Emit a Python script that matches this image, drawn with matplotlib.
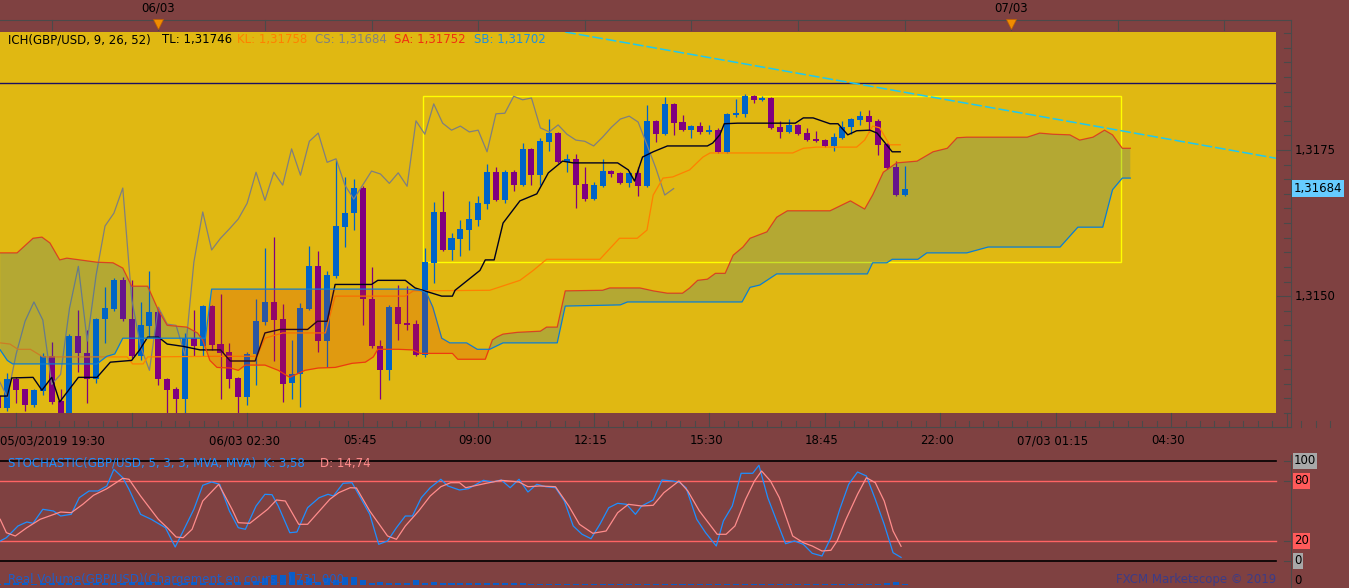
import numpy as np
import matplotlib
matplotlib.use("Agg")
import matplotlib.pyplot as plt
from matplotlib.patches import Rectangle
from matplotlib.transforms import blended_transform_factory as blend

# Bougies GBP/USD 15 min, à partir du 05/03/2019 19:30
opens = [1.31329, 1.31308, 1.31358, 1.31341, 1.31313, 1.31337, 1.31397, 1.31320, 1.31300, 1.31431,
         1.31402, 1.31358, 1.31461, 1.31478, 1.31527, 1.31461, 1.31397, 1.31449, 1.31473, 1.31358,
         1.31341, 1.31324, 1.31428, 1.31414, 1.31483, 1.31418, 1.31404, 1.31360, 1.31327, 1.31401,
         1.31455, 1.31490, 1.31461, 1.31351, 1.31366, 1.31478, 1.31551, 1.31423, 1.31534, 1.31618,
         1.31642, 1.31685, 1.31495, 1.31414, 1.31373, 1.31481, 1.31454, 1.31452, 1.31399, 1.31557,
         1.31644, 1.31579, 1.31598, 1.31613, 1.31630, 1.31658, 1.31712, 1.31664, 1.31712, 1.31690,
         1.31752, 1.31707, 1.31764, 1.31779, 1.31729, 1.31735, 1.31692, 1.31666, 1.31688, 1.31714,
         1.31711, 1.31693, 1.31711, 1.31688, 1.31800, 1.31777, 1.31829, 1.31798, 1.31784, 1.31791,
         1.31781, 1.31784, 1.31747, 1.31810, 1.31812, 1.31842, 1.31836, 1.31839, 1.31789, 1.31781,
         1.31793, 1.31779, 1.31769, 1.31767, 1.31757, 1.31771, 1.31789, 1.31801, 1.31808, 1.31800,
         1.31760, 1.31721, 1.31673]
highs = [1.31339, 1.31368, 1.31361, 1.31341, 1.31341, 1.31402, 1.31421, 1.31341, 1.31435, 1.31476,
         1.31442, 1.31462, 1.31515, 1.31531, 1.31533, 1.31527, 1.31490, 1.31543, 1.31481, 1.31360,
         1.31344, 1.31437, 1.31476, 1.31485, 1.31485, 1.31503, 1.31420, 1.31361, 1.31404, 1.31495,
         1.31582, 1.31601, 1.31486, 1.31425, 1.31488, 1.31586, 1.31577, 1.31543, 1.31733, 1.31704,
         1.31700, 1.31688, 1.31550, 1.31425, 1.31485, 1.31519, 1.31517, 1.31459, 1.31582, 1.31661,
         1.31680, 1.31608, 1.31630, 1.31663, 1.31671, 1.31726, 1.31721, 1.31716, 1.31716, 1.31762,
         1.31753, 1.31771, 1.31803, 1.31781, 1.31743, 1.31743, 1.31721, 1.31695, 1.31735, 1.31716,
         1.31712, 1.31712, 1.31721, 1.31827, 1.31801, 1.31841, 1.31830, 1.31810, 1.31793, 1.31798,
         1.31793, 1.31788, 1.31813, 1.31837, 1.31846, 1.31844, 1.31842, 1.31841, 1.31800, 1.31803,
         1.31795, 1.31788, 1.31783, 1.31769, 1.31779, 1.31800, 1.31805, 1.31817, 1.31819, 1.31803,
         1.31762, 1.31731, 1.31723]
lows = [1.31300, 1.31303, 1.31317, 1.31303, 1.31310, 1.31330, 1.31315, 1.31298, 1.31298, 1.31370,
        1.31317, 1.31351, 1.31420, 1.31474, 1.31457, 1.31394, 1.31390, 1.31430, 1.31348, 1.31300,
        1.31300, 1.31300, 1.31397, 1.31397, 1.31408, 1.31324, 1.31342, 1.31300, 1.31313, 1.31348,
        1.31450, 1.31389, 1.31319, 1.31324, 1.31310, 1.31476, 1.31404, 1.31378, 1.31531, 1.31584,
        1.31613, 1.31450, 1.31411, 1.31324, 1.31356, 1.31425, 1.31442, 1.31397, 1.31396, 1.31522,
        1.31577, 1.31562, 1.31568, 1.31579, 1.31620, 1.31649, 1.31663, 1.31659, 1.31680, 1.31688,
        1.31690, 1.31690, 1.31748, 1.31728, 1.31712, 1.31651, 1.31663, 1.31664, 1.31687, 1.31704,
        1.31692, 1.31687, 1.31671, 1.31687, 1.31764, 1.31776, 1.31776, 1.31783, 1.31771, 1.31777,
        1.31777, 1.31745, 1.31745, 1.31807, 1.31807, 1.31830, 1.31834, 1.31786, 1.31771, 1.31779,
        1.31776, 1.31765, 1.31764, 1.31755, 1.31748, 1.31769, 1.31777, 1.31793, 1.31781, 1.31741,
        1.31717, 1.31671, 1.31671]
closes = [1.31308, 1.31358, 1.31339, 1.31313, 1.31339, 1.31397, 1.31319, 1.31300, 1.31431, 1.31402,
          1.31358, 1.31461, 1.31479, 1.31527, 1.31461, 1.31397, 1.31450, 1.31473, 1.31358, 1.31339,
          1.31324, 1.31428, 1.31414, 1.31483, 1.31416, 1.31402, 1.31358, 1.31327, 1.31401, 1.31457,
          1.31490, 1.31459, 1.31349, 1.31366, 1.31479, 1.31551, 1.31423, 1.31536, 1.31620, 1.31642,
          1.31685, 1.31495, 1.31414, 1.31373, 1.31481, 1.31452, 1.31450, 1.31399, 1.31558, 1.31644,
          1.31579, 1.31599, 1.31615, 1.31632, 1.31659, 1.31712, 1.31664, 1.31712, 1.31690, 1.31752,
          1.31707, 1.31765, 1.31779, 1.31729, 1.31735, 1.31690, 1.31666, 1.31690, 1.31714, 1.31709,
          1.31693, 1.31711, 1.31688, 1.31800, 1.31777, 1.31829, 1.31796, 1.31784, 1.31791, 1.31781,
          1.31784, 1.31747, 1.31812, 1.31813, 1.31842, 1.31836, 1.31839, 1.31788, 1.31781, 1.31793,
          1.31777, 1.31767, 1.31765, 1.31757, 1.31772, 1.31789, 1.31803, 1.31808, 1.31798, 1.31759,
          1.31719, 1.31673, 1.31684]
volumes = [6, 9, 8, 9, 7, 9, 9, 8, 10, 9, 10, 11, 10, 10, 12, 14, 17, 17, 15, 12,
           10, 12, 14, 12, 10, 9, 12, 14, 16, 20, 35, 53, 53, 68, 26, 35, 17, 35, 26, 42,
           42, 26, 10, 17, 9, 12, 9, 26, 12, 15, 9, 12, 9, 9, 9, 9, 8, 9, 8, 9,
           5, 5, 6, 4, 5, 5, 6, 3, 4, 5, 3, 4, 6, 5, 4, 3, 4, 4, 3, 4,
           5, 3, 4, 3, 3, 4, 3, 4, 5, 3, 3, 4, 3, 4, 3, 3, 4, 3, 5, 4, 8, 17, 6]

# Ichimoku (position en bougies, prix)
tl_x = [0.2, 1.0, 1.5, 3.9, 4.9, 6.0, 6.9, 9.0, 11.1, 12.6, 15.0, 15.9, 16.8, 18.0, 19.0, 20.8, 22.7, 25.0,
        26.1, 28.9, 30.0, 31.7, 34.8, 35.9, 37.0, 37.9, 42.0, 42.7, 45.8, 46.9, 48.4, 49.9, 51.1, 51.4,
        54.2, 54.8, 55.8, 56.8, 58.7, 60.6, 61.9, 63.5, 64.7, 69.7, 70.9, 71.6, 72.5, 73.7, 75.3, 79.8,
        80.4, 81.2, 81.7, 83.2, 89.7, 90.6, 91.7, 93.6, 94.5, 95.6, 96.6, 98.1, 98.9, 100.6, 101.5]
tl_y = [1.31329, 1.31329, 1.31360, 1.31361, 1.31339, 1.31361, 1.31319, 1.31361, 1.31361, 1.31387,
        1.31390, 1.31408, 1.31430, 1.31430, 1.31418, 1.31414, 1.31408, 1.31408, 1.31389, 1.31389,
        1.31437, 1.31443, 1.31443, 1.31457, 1.31457, 1.31520, 1.31520, 1.31527, 1.31527, 1.31514,
        1.31507, 1.31500, 1.31500, 1.31510, 1.31544, 1.31562, 1.31562, 1.31625, 1.31663, 1.31675,
        1.31711, 1.31731, 1.31728, 1.31728, 1.31716, 1.31697, 1.31738, 1.31747, 1.31757, 1.31757,
        1.31762, 1.31776, 1.31795, 1.31796, 1.31796, 1.31805, 1.31805, 1.31795, 1.31795, 1.31776,
        1.31783, 1.31784, 1.31779, 1.31747, 1.31747]
kl_x = [0.2, 1.3, 2.2, 3.6, 5.0, 14.5, 15.1, 16.3, 16.8, 24.2, 29.1, 30.0, 32.0, 36.8, 37.9, 45.8, 46.7,
        55.3, 58.7, 60.2, 61.7, 67.7, 69.9, 71.9, 73.0, 73.7, 74.8, 75.9, 77.8, 79.3, 80.1, 89.4, 90.6,
        92.1, 96.6, 97.5, 98.4, 99.2, 100.3, 101.5]
kl_y = [1.31420, 1.31418, 1.31409, 1.31409, 1.31396, 1.31396, 1.31384, 1.31384, 1.31396, 1.31397,
        1.31397, 1.31428, 1.31437, 1.31437, 1.31500, 1.31500, 1.31509, 1.31510, 1.31527, 1.31544,
        1.31563, 1.31563, 1.31599, 1.31599, 1.31613, 1.31673, 1.31702, 1.31704, 1.31716, 1.31738,
        1.31745, 1.31745, 1.31753, 1.31755, 1.31755, 1.31767, 1.31791, 1.31788, 1.31759, 1.31759]
sa_x = [0.2, 2.1, 3.9, 4.9, 5.8, 6.9, 7.7, 11.1, 12.9, 14.0, 15.0, 16.8, 18.0, 19.0, 21.2, 22.4, 23.0,
        23.8, 24.6, 26.1, 27.0, 27.8, 30.0, 31.5, 32.8, 34.5, 36.0, 37.9, 39.8, 41.3, 42.2, 42.7, 45.0,
        46.6, 47.5, 51.1, 51.7, 54.8, 55.6, 56.1, 56.8, 58.4, 61.0, 61.7, 62.9, 63.8, 68.0, 68.8, 72.2,
        73.7, 75.3, 77.0, 77.8, 78.7, 79.8, 80.7, 81.8, 82.7, 83.8, 84.6, 86.5, 87.6, 88.8, 93.6, 95.9,
        97.5, 98.4, 99.6, 101.1, 103.4, 105.2, 106.8, 107.9, 109.0, 115.8, 117.2, 118.7, 120.6, 121.7,
        123.2, 124.5, 125.4, 126.5, 127.4]
sa_y = [1.31574, 1.31574, 1.31599, 1.31601, 1.31591, 1.31562, 1.31565, 1.31558, 1.31557, 1.31548,
        1.31517, 1.31517, 1.31476, 1.31450, 1.31447, 1.31437, 1.31425, 1.31390, 1.31378, 1.31377,
        1.31373, 1.31382, 1.31382, 1.31373, 1.31361, 1.31373, 1.31377, 1.31378, 1.31385, 1.31387,
        1.31396, 1.31409, 1.31409, 1.31408, 1.31402, 1.31402, 1.31392, 1.31392, 1.31425, 1.31430,
        1.31435, 1.31438, 1.31440, 1.31447, 1.31447, 1.31509, 1.31510, 1.31514, 1.31514, 1.31509,
        1.31505, 1.31505, 1.31514, 1.31527, 1.31529, 1.31539, 1.31539, 1.31570, 1.31584, 1.31599,
        1.31610, 1.31635, 1.31646, 1.31646, 1.31663, 1.31649, 1.31673, 1.31712, 1.31728, 1.31731,
        1.31747, 1.31753, 1.31771, 1.31772, 1.31772, 1.31779, 1.31777, 1.31776, 1.31767, 1.31772,
        1.31784, 1.31776, 1.31753, 1.31753]
sb_x = [0.2, 1.0, 1.6, 11.1, 12.2, 13.1, 14.0, 23.3, 24.0, 46.0, 47.5, 48.2, 48.9, 49.9, 50.8, 52.7,
        53.9, 55.3, 56.8, 62.9, 63.8, 70.0, 70.8, 83.7, 84.6, 85.7, 87.6, 97.8, 98.4, 100.0, 100.6,
        103.5, 104.5, 109.0, 111.4, 119.5, 121.5, 124.3, 125.4, 126.5, 127.4]
sb_y = [1.31408, 1.31390, 1.31384, 1.31384, 1.31397, 1.31401, 1.31428, 1.31428, 1.31512, 1.31512,
        1.31510, 1.31505, 1.31481, 1.31428, 1.31420, 1.31420, 1.31409, 1.31409, 1.31420, 1.31420,
        1.31483, 1.31485, 1.31490, 1.31490, 1.31515, 1.31519, 1.31538, 1.31538, 1.31557, 1.31557,
        1.31563, 1.31563, 1.31574, 1.31574, 1.31584, 1.31584, 1.31618, 1.31618, 1.31682, 1.31702,
        1.31702]
decalage_cs = 26

# Stochastique (5, 3, 3)
k_x = [0.2, 0.9, 2.2, 3.2, 3.9, 5.0, 6.2, 7.0, 8.2, 9.1, 10.2, 11.2, 12.2, 13.0, 14.0, 14.7, 16.0, 17.2,
       18.8, 19.9, 20.8, 22.0, 23.0, 24.0, 24.9, 26.0, 27.0, 27.8, 29.0, 30.0, 30.8, 31.5, 32.8, 33.6,
       34.8, 36.1, 37.1, 37.7, 38.8, 39.8, 41.8, 42.8, 43.8, 44.8, 45.8, 46.6, 47.6, 48.6, 49.8, 50.6,
       51.9, 52.9, 54.6, 55.6, 56.6, 57.6, 58.6, 59.6, 60.6, 61.6, 62.7, 63.7, 64.7, 65.7, 66.7, 67.7,
       68.7, 69.7, 70.7, 71.7, 72.4, 73.7, 74.7, 75.9, 76.7, 77.4, 78.6, 79.6, 80.8, 81.6, 82.6, 83.6,
       84.9, 85.6, 86.6, 87.6, 88.6, 89.6, 90.6, 91.6, 92.7, 93.7, 94.7, 95.7, 96.7, 97.7, 98.7, 99.7,
       100.7, 101.6]
k_v = [20.0, 23.3, 35.0, 39.0, 37.7, 51.7, 50.0, 45.0, 46.7, 63.3, 70.0, 70.0, 75.0, 91.7, 83.3, 71.7,
       46.7, 41.7, 33.3, 14.0, 30.0, 51.7, 75.7, 79.0, 76.7, 50.0, 33.3, 31.7, 55.0, 66.7, 66.3, 55.0,
       28.3, 29.0, 53.3, 63.3, 66.7, 65.0, 77.7, 78.3, 46.7, 16.7, 20.0, 33.3, 45.0, 45.0, 63.3, 73.3,
       81.7, 75.0, 71.0, 72.3, 80.7, 79.0, 81.0, 73.3, 81.7, 69.0, 76.7, 74.3, 73.3, 60.0, 35.0, 26.7,
       22.3, 36.7, 53.3, 57.7, 56.7, 46.7, 55.0, 61.0, 81.0, 80.0, 78.3, 73.3, 41.7, 28.3, 15.0, 40.0,
       55.0, 87.7, 87.7, 95.7, 63.3, 40.0, 17.3, 20.0, 16.7, 7.7, 5.0, 23.3, 51.7, 76.7, 89.0, 85.0,
       61.7, 36.7, 8.3, 3.6]
d_x = [0.2, 0.9, 1.9, 3.2, 4.7, 7.0, 8.2, 9.5, 10.7, 12.2, 14.0, 14.7, 16.0, 18.0, 19.0, 20.0, 20.8,
       21.8, 23.0, 24.8, 26.3, 27.0, 28.3, 30.3, 31.3, 32.3, 33.8, 34.8, 36.3, 37.3, 38.3, 39.6, 40.3,
       41.8, 43.8, 44.8, 45.8, 47.3, 48.6, 49.8, 50.9, 51.9, 52.6, 54.9, 56.6, 58.6, 59.6, 60.9, 62.7,
       64.2, 65.4, 66.9, 68.4, 69.7, 70.9, 72.4, 73.7, 74.9, 76.6, 77.6, 78.9, 80.9, 81.9, 82.9, 84.1,
       85.1, 85.9, 86.9, 87.9, 89.4, 90.6, 91.6, 92.7, 93.7, 94.4, 95.4, 96.7, 97.7, 98.7, 99.7, 100.7,
       101.6]
d_v = [41.7, 28.3, 25.0, 33.3, 41.7, 49.0, 48.3, 56.7, 65.7, 72.3, 82.7, 81.7, 65.0, 41.7, 33.3, 24.0,
       23.3, 31.7, 60.0, 76.7, 51.7, 38.3, 37.7, 51.7, 61.0, 60.0, 36.7, 36.7, 51.7, 61.7, 68.3, 73.3,
       73.0, 50.0, 25.0, 21.7, 35.0, 50.0, 65.0, 74.3, 78.3, 78.3, 73.3, 77.7, 80.7, 79.0, 74.3, 75.0,
       74.3, 55.0, 36.7, 27.7, 30.0, 48.3, 56.7, 55.0, 55.7, 68.3, 80.0, 70.0, 50.0, 26.7, 26.7, 35.0,
       61.7, 80.0, 90.0, 80.0, 63.3, 25.0, 18.3, 15.0, 10.0, 10.7, 20.0, 41.7, 66.7, 83.3, 78.3, 60.0,
       30.0, 14.7]

# Objets dessinés par l'utilisateur
trend_x = [63.8, 143.8]
trend_y = [1.31952, 1.31736]
niveau_h = 1.31865
zone_x = [47.8, 126.3]
zone_y = [1.31558, 1.31842]

# Axe du temps
heure_pos = [28, 41, 54, 67, 80, 93, 106, 119, 132]
heure_lab = ["06/03 02:30", "05:45", "09:00", "12:15", "15:30", "18:45", "22:00", "07/03 01:15", "04:30"]
jour_pos = [18, 114]
jour_lab = ["06/03", "07/03"]
prix_lab = [1.3175, 1.3150]

W, H = 1349, 588
FOND = "#7f4141"
JAUNE = "#e0b812"
BLEU = "#0064c8"
VIOLET = "#800080"
XMIN, XMAX = 0.18, 143.8
plt.rcParams["font.family"] = ["DejaVu Sans"]
FS = 8.5

fig = plt.figure(figsize=(W / 100, H / 100), dpi=100, facecolor=FOND)


def boite(x0, y0, x1, y1):
    # pixels (origine en haut à gauche) -> fractions de la figure
    return [x0 / W, 1 - y1 / H, (x1 - x0) / W, (y1 - y0) / H]


def nettoie(a):
    a.set_xticks([])
    a.set_yticks([])
    for s in a.spines.values():
        s.set_visible(False)
    a.set_xlim(XMIN, XMAX)


# ---- panneau principal
ax = fig.add_axes(boite(0, 32, 1276, 413), zorder=1)
ax.set_facecolor(JAUNE)
nettoie(ax)
ax.set_ylim(1.31300, 1.31952)

idx = np.arange(len(opens))
o = np.array(opens)
c = np.array(closes)
couleurs = np.where(c >= o, BLEU, VIOLET)
ax.vlines(idx, lows, highs, colors=couleurs, lw=0.9, zorder=2)
bas = np.minimum(o, c)
ax.bar(idx, np.maximum(np.abs(c - o), 0.000015), bottom=bas, width=0.68, color=couleurs, lw=0, zorder=2)

ax.axhline(niveau_h, color="#1a1060", lw=1, zorder=1.5)
ax.add_patch(Rectangle((zone_x[0], zone_y[0]), zone_x[1] - zone_x[0], zone_y[1] - zone_y[0],
                       fill=False, ec="#ffff00", lw=1, zorder=1.6))

ax.plot(idx[decalage_cs:] - decalage_cs, closes[decalage_cs:], color="#7f7f7f", lw=0.9, zorder=3)
ax.plot(kl_x, kl_y, color="#ff8000", lw=0.9, zorder=3)
ax.plot(tl_x, tl_y, color="#000020", lw=1.0, zorder=3)
ax.plot(sa_x, sa_y, color="#f04010", lw=0.9, zorder=3)
ax.plot(sb_x, sb_y, color="#0a80d8", lw=0.9, zorder=3)

# nuage transparent au-dessus des bougies
xs = np.linspace(sa_x[0], sa_x[-1], 3000)
a = np.interp(xs, sa_x, sa_y)
b = np.interp(xs, sb_x, sb_y)
ax.fill_between(xs, a, b, where=a >= b, interpolate=True, color="#046cbc", alpha=0.2, lw=0, zorder=4)
ax.fill_between(xs, a, b, where=a < b, interpolate=True, color="#e02608", alpha=0.2, lw=0, zorder=4)

ax.axline((trend_x[0], trend_y[0]), (trend_x[1], trend_y[1]), color="#1ec8f0", lw=1.1,
          ls=(0, (7, 2)), zorder=5)

# ---- stochastique
st = fig.add_axes(boite(0, 461, 1276, 561), zorder=1)
st.patch.set_alpha(0)
nettoie(st)
st.set_ylim(0, 100)
for niv, coul, ep in [(100, "#000000", 1.2), (0, "#000000", 1.2), (80, "#ff6464", 1), (20, "#ff6464", 1)]:
    st.axhline(niv, color=coul, lw=ep, clip_on=False)
st.plot(k_x, k_v, color="#1e8fff", lw=0.9, clip_on=False)
st.plot(d_x, d_v, color="#ff8c8c", lw=0.9, clip_on=False)

# ---- volume
vo = fig.add_axes(boite(0, 566, 1276, 588), zorder=1)
vo.patch.set_alpha(0)
nettoie(vo)
vo.set_ylim(-16, 100)
vo.bar(idx, volumes, width=0.68, color="#0a5ec8", lw=0)

# ---- textes et graduations
top = fig.add_axes([0, 0, 1, 1], zorder=10)
top.set_xlim(0, W)
top.set_ylim(H, 0)
top.axis("off")
top.patch.set_alpha(0)
tx_pix = blend(ax.transData, top.transData)
pix_prix = blend(top.transData, ax.transData)
pix_sto = blend(top.transData, st.transData)

entete = [("ICH(GBP/USD, 9, 26, 52)", 8, "#000000"), ("TL: 1,31746", 162, "#000000"),
          ("KL: 1,31758", 237, "#ff8000"), ("CS: 1,31684", 315, "#808080"),
          ("SA: 1,31752", 394, "#f03010"), ("SB: 1,31702", 474, "#1e8fe0")]
for txt, x, coul in entete:
    top.text(x, 40, txt, color=coul, fontsize=FS, va="center", ha="left")
top.text(8, 463, "STOCHASTIC(GBP/USD, 5, 3, 3, MVA, MVA)  K: 3,58", color="#1e8fff", fontsize=FS, va="center")
top.text(320, 463, "D: 14,74", color="#ff8c8c", fontsize=FS, va="center")
top.text(8, 579, "Real Volume(GBP/USD)(Chargement en cours...) 731 000", color="#1e5ec8", fontsize=FS,
         va="center")
top.text(1276, 579, "FXCM Marketscope © 2019", color="#3c3c88", fontsize=FS, va="center", ha="right")

# bande du haut
top.plot([0, 1291], [20, 20], color="#4a4a4a", lw=0.8)
for i in range(6, 144, 12):
    top.plot([i, i], [20, 30], color="#4a4a4a", lw=0.8, transform=tx_pix)
for i, lab in zip(jour_pos, jour_lab):
    top.text(i, 8, lab, fontsize=FS, ha="center", va="center", transform=tx_pix)
    top.plot([i], [24], marker="v", ms=7, color="#f08c00", mec="#c06000", mew=0.5, transform=tx_pix)

# bande des heures
top.plot([0, 1291], [427, 427], color="#4a4a4a", lw=0.8)
for k in range(0, 92):
    i = 2 + k * 13 / 8
    haut = 413 if k % 8 == 0 else 421
    top.plot([i, i], [haut, 427], color="#4a4a4a", lw=0.8, transform=tx_pix)
top.text(0, 441, "05/03/2019 19:30", fontsize=FS, ha="left", va="center")
for i, lab in zip(heure_pos, heure_lab):
    top.text(i - 0.3, 441, lab, fontsize=FS, ha="center", va="center", transform=tx_pix)

# axe des prix
top.plot([1291, 1291], [20, 427], color="#4a4a4a", lw=0.8)
for p in np.arange(1.31300, 1.31951, 0.00025):
    gauche = 1277 if abs((p * 10000) % 25) < 0.01 or abs((p * 10000) % 25 - 25) < 0.01 else 1284
    top.plot([gauche, 1291], [p, p], color="#4a4a4a", lw=0.8, transform=pix_prix)
for p in prix_lab:
    top.text(1295, p, f"{p:.4f}".replace(".", ","), fontsize=FS, va="center", ha="left", transform=pix_prix)
top.text(1294, closes[-1], f"{closes[-1]:.5f}".replace(".", ","), fontsize=FS, va="center", ha="left",
         transform=pix_prix, bbox=dict(boxstyle="square,pad=0.15", fc="#66ccff", ec="none"))

# axe du stochastique
top.plot([1291, 1291], [455, 588], color="#4a4a4a", lw=0.8)
for niv, fc in [(100, "#a8a8a8"), (80, "#ff5a5a"), (20, "#ff5a5a"), (0, "#a8a8a8")]:
    top.plot([1284, 1291], [niv, niv], color="#4a4a4a", lw=0.8, transform=pix_sto)
    top.text(1294, niv, str(niv), fontsize=FS, va="center", ha="left", transform=pix_sto,
             bbox=dict(boxstyle="square,pad=0.1", fc=fc, ec="none"))
top.text(1294, 581, "0", fontsize=FS, va="center", ha="left")

fig.savefig("out.png", dpi=100, facecolor=FOND)
